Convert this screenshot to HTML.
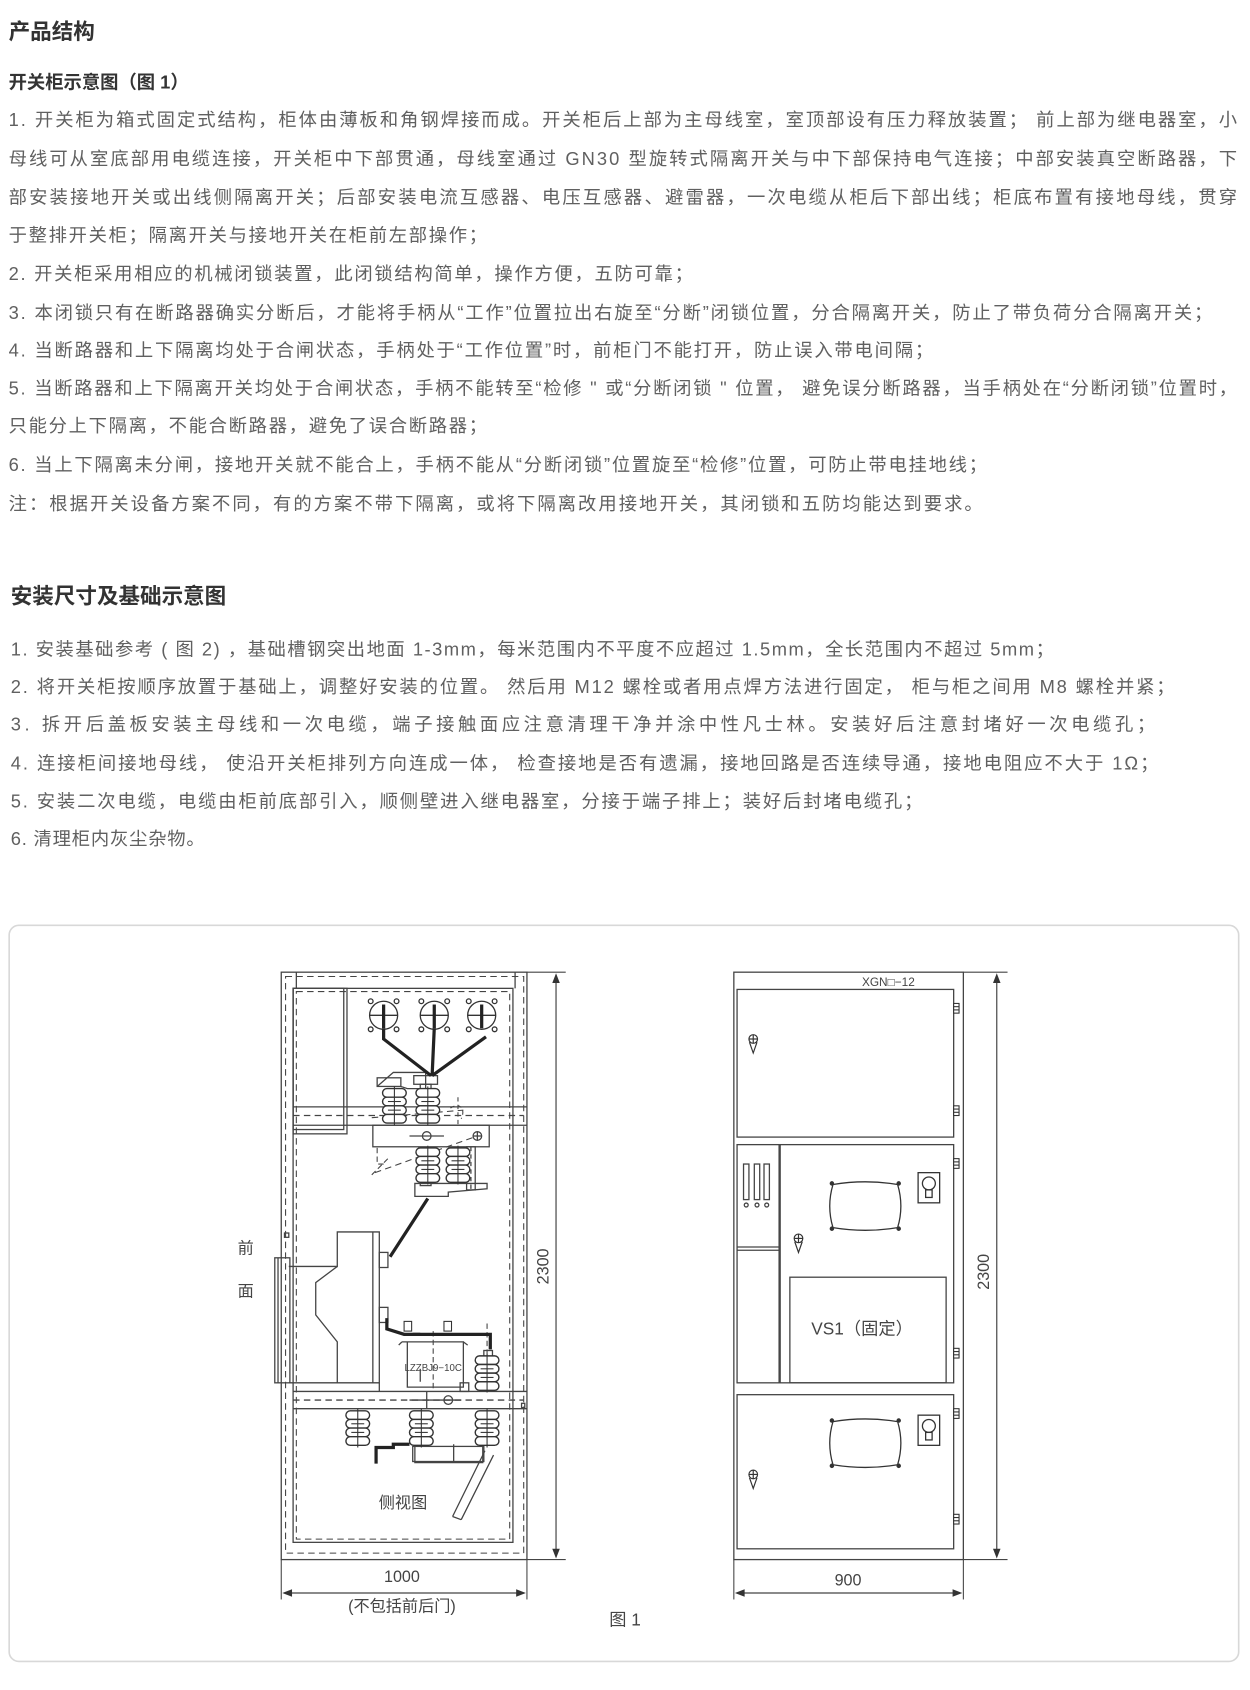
<!DOCTYPE html>
<html><head><meta charset="utf-8"><style>
html,body{margin:0;padding:0;background:#fff;}
svg{display:block;}
.t{font-family:"Liberation Sans","Noto Sans CJK SC",sans-serif;font-size:17px;fill:#606060;}
.h{font-family:"Liberation Sans","Noto Sans CJK SC",sans-serif;font-weight:bold;fill:#333;}
.d{font-family:"Liberation Sans","Noto Sans CJK SC",sans-serif;fill:#444;}
</style></head><body>
<svg width="1250" height="1690" viewBox="0 0 1160 1568" preserveAspectRatio="none" xmlns="http://www.w3.org/2000/svg">
<defs>
<g id="ins">
 <rect x="-11" y="0" width="22" height="8" rx="4" fill="#fff" stroke="#333" stroke-width="1.3"/>
 <rect x="-11" y="8" width="22" height="8" rx="4" fill="#fff" stroke="#333" stroke-width="1.3"/>
 <rect x="-11" y="16" width="22" height="8" rx="4" fill="#fff" stroke="#333" stroke-width="1.3"/>
 <rect x="-11" y="24" width="22" height="8" rx="4" fill="#fff" stroke="#333" stroke-width="1.3"/>
 <line x1="0" y1="-2" x2="0" y2="34" stroke="#333" stroke-width="1"/>
 <line x1="-6" y1="12" x2="6" y2="12" stroke="#333" stroke-width="1"/>
 <line x1="-6" y1="20" x2="6" y2="20" stroke="#333" stroke-width="1"/>
</g>
<g id="knob" fill="none" stroke="#333" stroke-width="1.1">
 <circle cx="0" cy="0" r="4"/><line x1="-4" y1="0" x2="4" y2="0"/><line x1="0" y1="-4" x2="0" y2="4"/>
 <path d="M-3.5 3 L0 13 L3.5 3"/>
</g>
<g id="hinge" fill="#fff" stroke="#333" stroke-width="1">
 <rect x="0" y="0" width="5" height="9"/><line x1="0" y1="3" x2="5" y2="3"/><line x1="0" y1="6" x2="5" y2="6"/>
</g>
<g id="lamp" fill="none" stroke="#333" stroke-width="1.2">
 <rect x="0" y="0" width="20" height="28"/>
 <circle cx="10" cy="10" r="6"/><rect x="7" y="16" width="6" height="7"/>
</g>
<g id="win" fill="none" stroke="#333" stroke-width="1.2">
 <path d="M0 0 Q30 -5 60 0 Q66 20 60 40 Q30 45 0 40 Q-6 20 0 0 Z"/>
 <circle cx="-1" cy="-1" r="1.5" fill="#333"/><circle cx="61" cy="-1" r="1.5" fill="#333"/>
 <circle cx="-1" cy="41" r="1.5" fill="#333"/><circle cx="61" cy="41" r="1.5" fill="#333"/>
</g>
</defs>

<text class="h" x="8" y="36" font-size="20">产品结构</text>
<text class="h" x="8" y="82" font-size="17">开关柜示意图（图 1）</text>
<text class="t" x="8" y="117" textLength="1140" lengthAdjust="spacing">1. 开关柜为箱式固定式结构，柜体由薄板和角钢焊接而成。开关柜后上部为主母线室，室顶部设有压力释放装置； 前上部为继电器室，小</text>
<text class="t" x="8" y="153" textLength="1140" lengthAdjust="spacing">母线可从室底部用电缆连接，开关柜中下部贯通，母线室通过 GN30 型旋转式隔离开关与中下部保持电气连接；中部安装真空断路器，下</text>
<text class="t" x="8" y="189" textLength="1140" lengthAdjust="spacing">部安装接地开关或出线侧隔离开关；后部安装电流互感器、电压互感器、避雷器，一次电缆从柜后下部出线；柜底布置有接地母线，贯穿</text>
<text class="t" x="8" y="224" textLength="444" lengthAdjust="spacing">于整排开关柜；隔离开关与接地开关在柜前左部操作；</text>
<text class="t" x="8" y="260" textLength="635" lengthAdjust="spacing">2. 开关柜采用相应的机械闭锁装置，此闭锁结构简单，操作方便，五防可靠；</text>
<text class="t" x="8" y="296" textLength="1117" lengthAdjust="spacing">3. 本闭锁只有在断路器确实分断后，才能将手柄从“工作”位置拉出右旋至“分断”闭锁位置，分合隔离开关，防止了带负荷分合隔离开关；</text>
<text class="t" x="8" y="331" textLength="858" lengthAdjust="spacing">4. 当断路器和上下隔离均处于合闸状态，手柄处于“工作位置”时，前柜门不能打开，防止误入带电间隔；</text>
<text class="t" x="8" y="366" textLength="1140" lengthAdjust="spacing">5. 当断路器和上下隔离开关均处于合闸状态，手柄不能转至“检修 " 或“分断闭锁 " 位置，  避免误分断路器，当手柄处在“分断闭锁”位置时，</text>
<text class="t" x="8" y="401" textLength="444" lengthAdjust="spacing">只能分上下隔离，不能合断路器，避免了误合断路器；</text>
<text class="t" x="8" y="437" textLength="908" lengthAdjust="spacing">6. 当上下隔离未分闸，接地开关就不能合上，手柄不能从“分断闭锁”位置旋至“检修”位置，可防止带电挂地线；</text>
<text class="t" x="8" y="473" textLength="904" lengthAdjust="spacing">注：根据开关设备方案不同，有的方案不带下隔离，或将下隔离改用接地开关，其闭锁和五防均能达到要求。</text>

<text class="h" x="10" y="560" font-size="20">安装尺寸及基础示意图</text>
<text class="t" x="10" y="608" textLength="968" lengthAdjust="spacing">1. 安装基础参考 ( 图 2) ，基础槽钢突出地面 1-3mm，每米范围内不平度不应超过 1.5mm，全长范围内不超过 5mm；</text>
<text class="t" x="10" y="643" textLength="1080" lengthAdjust="spacing">2. 将开关柜按顺序放置于基础上，调整好安装的位置。 然后用 M12 螺栓或者用点焊方法进行固定，  柜与柜之间用 M8 螺栓并紧；</text>
<text class="t" x="10" y="678" textLength="1062" lengthAdjust="spacing">3. 拆开后盖板安装主母线和一次电缆，端子接触面应注意清理干净并涂中性凡士林。安装好后注意封堵好一次电缆孔；</text>
<text class="t" x="10" y="714" textLength="1065" lengthAdjust="spacing">4. 连接柜间接地母线，  使沿开关柜排列方向连成一体，  检查接地是否有遗漏，接地回路是否连续导通，接地电阻应不大于 1Ω；</text>
<text class="t" x="10" y="749" textLength="846" lengthAdjust="spacing">5. 安装二次电缆，电缆由柜前底部引入，顺侧壁进入继电器室，分接于端子排上；装好后封堵电缆孔；</text>
<text class="t" x="10" y="784" textLength="180" lengthAdjust="spacing">6. 清理柜内灰尘杂物。</text>

<rect x="8.5" y="858.5" width="1141" height="683" rx="9" fill="#fff" stroke="#d8d8d8" stroke-width="1.5"/>

<g fill="none" stroke="#444" stroke-width="1.2">
 <rect x="261" y="902" width="228" height="545"/>
 <rect x="265" y="906" width="221" height="535" stroke-dasharray="6 4" stroke-width="1"/>
 <line x1="275" y1="902" x2="275" y2="917"/>
 <line x1="478" y1="902" x2="478" y2="917"/>
 <rect x="272" y="917" width="204" height="514"/>
 <rect x="275" y="920" width="198" height="508" stroke-dasharray="6 4" stroke-width="1"/>
 <rect x="272" y="917" width="50" height="135"/>
 <rect x="272" y="917" width="47" height="131"/>
 <line x1="272" y1="1027" x2="489" y2="1027"/>
 <line x1="272" y1="1044" x2="489" y2="1044"/>
 <line x1="272" y1="1035" x2="486" y2="1035" stroke-dasharray="6 4"/>
 <line x1="272" y1="1291" x2="489" y2="1291"/>
 <line x1="272" y1="1307" x2="489" y2="1307"/>
 <line x1="272" y1="1299" x2="486" y2="1299" stroke-dasharray="6 4"/>
 <rect x="264" y="1144" width="4" height="4"/>
 <rect x="484" y="1302" width="3" height="4"/>
 <rect x="255" y="1167" width="14" height="116"/>
 <line x1="258" y1="1167" x2="258" y2="1283"/>
 <path d="M268 1175 L313 1175 L313 1143 L352 1143 L352 1283 L268 1283"/>
 <path d="M313 1175 L293 1190 L293 1220 L313 1245 L313 1283"/>
 <line x1="346" y1="1143" x2="346" y2="1283"/>
 <line x1="352" y1="1283" x2="352" y2="1291"/>
 <rect x="352" y="1162" width="8" height="14"/>
 <rect x="352" y="1213" width="8" height="14"/>
 <rect x="346" y="1044" width="108" height="20"/>
 <circle cx="396" cy="1054" r="4"/>
 <line x1="380" y1="1054" x2="412" y2="1054"/>
 <circle cx="443" cy="1054" r="4"/><line x1="439" y1="1054" x2="447" y2="1054"/><line x1="443" y1="1050" x2="443" y2="1058"/>
 <path d="M345 1037 L430 1030 M348 1088 L440 1055" stroke-dasharray="6 4" stroke-width="1"/>
 <path d="M350 1065 L350 1080 L356 1080 M345 1090 L360 1075" stroke-dasharray="5 3" stroke-width="1"/>
 <path d="M425 1018 L425 1046 M418 1028 C428 1022 432 1030 428 1038" stroke-dasharray="4 3" stroke-width="1"/>
 <rect x="433" y="1064" width="8" height="40"/>
 <line x1="437" y1="1064" x2="437" y2="1104" stroke-dasharray="4 3"/>
 <path d="M385 1098 L385 1110 L416 1110 L416 1106 L452 1103 L452 1098 Z"/>
 <rect x="390" y="1088" width="10" height="12"/>
 <rect x="350" y="1000" width="22" height="8"/>
 <path d="M350 1008 L365 995 L395 995 L395 1010 L378 1010 L372 1008"/>
 <rect x="384" y="998" width="22" height="8"/>
 <rect x="390" y="1006" width="10" height="8"/>
 <rect x="427" y="1283" width="8" height="8"/>
 <path d="M396 1291 L396 1307 M380 1299 L428 1299"/>
 <circle cx="416" cy="1299" r="4"/>
 <path d="M373 1245 L378 1245 L378 1287 L430 1287 L430 1245 Z"/>
 <path d="M373 1245 L370 1248 M430 1245 L434 1248"/>
 <line x1="402" y1="1235" x2="402" y2="1290" stroke-dasharray="5 3" stroke-width="1"/>
 <line x1="390" y1="1270" x2="390" y2="1282"/>
 <line x1="452" y1="1228" x2="452" y2="1291" stroke-dasharray="5 3" stroke-width="1"/>
 <rect x="449" y="1253" width="8" height="6"/>
 <path d="M421 1340 L421 1357 L448 1357 L448 1342 M385 1342 L385 1357 L421 1357"/>
 <rect x="383" y="1342" width="66" height="14"/>
 <path d="M450 1346 L420 1407 M458 1350 L428 1410 M420 1407 L428 1410"/>
 <line x1="489" y1="902" x2="525" y2="902" stroke-width="1"/>
 <line x1="489" y1="1447" x2="525" y2="1447" stroke-width="1"/>
 <line x1="516" y1="905" x2="516" y2="1444" stroke-width="1.1"/>
 <line x1="261" y1="1447" x2="261" y2="1484" stroke-width="1"/>
 <line x1="489" y1="1447" x2="489" y2="1484" stroke-width="1"/>
 <line x1="264" y1="1478" x2="486" y2="1478" stroke-width="1.1"/>
</g>
<g fill="#333">
 <path d="M516 903 L512.5 912 L519.5 912 Z"/><path d="M516 1446 L512.5 1437 L519.5 1437 Z"/>
 <path d="M262 1478 L271 1474.5 L271 1481.5 Z"/><path d="M488 1478 L479 1474.5 L479 1481.5 Z"/>
</g>
<g fill="none" stroke="#333" stroke-width="1.2">
 <circle cx="356" cy="942" r="13"/><circle cx="403" cy="942" r="13"/><circle cx="447" cy="942" r="13"/>
 <line x1="343" y1="942" x2="369" y2="942"/><line x1="390" y1="942" x2="416" y2="942"/><line x1="434" y1="942" x2="460" y2="942"/>
 <circle cx="344" cy="929" r="2.2"/><circle cx="368" cy="929" r="2.2"/><circle cx="344" cy="955" r="2.2"/><circle cx="368" cy="955" r="2.2"/>
 <circle cx="391" cy="929" r="2.2"/><circle cx="415" cy="929" r="2.2"/><circle cx="391" cy="955" r="2.2"/><circle cx="415" cy="955" r="2.2"/>
 <circle cx="435" cy="929" r="2.2"/><circle cx="459" cy="929" r="2.2"/><circle cx="435" cy="955" r="2.2"/><circle cx="459" cy="955" r="2.2"/>
</g>
<g stroke="#222" stroke-width="3" fill="none">
 <line x1="356" y1="932" x2="356" y2="954"/><line x1="403" y1="932" x2="403" y2="954"/><line x1="447" y1="932" x2="447" y2="954"/>
 <path d="M356 954 L356 964 L400 998 M403 954 L401 998 M451 962 L401 998"/>
 <path d="M397 1112 L362 1166"/>
 <path d="M359 1223 L359 1233 L375 1238 L390 1238"/>
 <path d="M383 1238 L415 1238 M410 1238 L455 1238 L455 1252"/>
 <path d="M349 1358 L349 1343 L365 1343 L365 1340 L380 1340"/>
</g>
<g fill="none" stroke="#333" stroke-width="1"><rect x="375" y="1226" width="7" height="9"/><rect x="412" y="1226" width="7" height="9"/></g>
<use href="#ins" x="366" y="1010"/>
<use href="#ins" x="397" y="1010"/>
<use href="#ins" x="397" y="1065"/>
<use href="#ins" x="425" y="1065"/>
<use href="#ins" x="452" y="1258"/>
<use href="#ins" x="332" y="1309"/>
<use href="#ins" x="391" y="1309"/>
<use href="#ins" x="452" y="1309"/>
<text class="d" x="402" y="1272" font-size="9" text-anchor="middle">LZZBJ9−10C</text>
<text class="d" x="374" y="1399" font-size="15" text-anchor="middle">侧视图</text>
<text class="d" x="228" y="1163" font-size="15" text-anchor="middle">前</text>
<text class="d" x="228" y="1203" font-size="15" text-anchor="middle">面</text>
<text class="d" x="509" y="1175" font-size="15" text-anchor="middle" transform="rotate(-90 509 1175)">2300</text>
<text class="d" x="373" y="1468" font-size="15" text-anchor="middle">1000</text>
<text class="d" x="373" y="1495" font-size="15" text-anchor="middle">(不包括前后门)</text>
<text class="d" x="580" y="1508" font-size="16" text-anchor="middle">图 1</text>

<g fill="none" stroke="#444" stroke-width="1.2">
 <rect x="681" y="902" width="213" height="545"/>
 <rect x="684" y="918" width="201" height="137"/>
 <rect x="684" y="1062" width="39" height="221"/>
 <line x1="684" y1="1157" x2="723" y2="1157"/><line x1="684" y1="1160" x2="723" y2="1160"/>
 <rect x="724" y="1062" width="161" height="221"/>
 <rect x="733" y="1185" width="145" height="98"/>
 <rect x="684" y="1294" width="201" height="143"/>
 <rect x="690" y="1080" width="5" height="33"/><rect x="700" y="1080" width="5" height="33"/><rect x="709" y="1080" width="5" height="33"/>
 <circle cx="692.5" cy="1118" r="1.8"/><circle cx="702.5" cy="1118" r="1.8"/><circle cx="711.5" cy="1118" r="1.8"/>
 <line x1="894" y1="902" x2="935" y2="902" stroke-width="1"/>
 <line x1="894" y1="1447" x2="935" y2="1447" stroke-width="1"/>
 <line x1="925" y1="905" x2="925" y2="1444" stroke-width="1.1"/>
 <line x1="681" y1="1447" x2="681" y2="1484" stroke-width="1"/>
 <line x1="894" y1="1447" x2="894" y2="1484" stroke-width="1"/>
 <line x1="684" y1="1478" x2="891" y2="1478" stroke-width="1.1"/>
</g>
<g fill="#333">
 <path d="M925 903 L921.5 912 L928.5 912 Z"/><path d="M925 1446 L921.5 1437 L928.5 1437 Z"/>
 <path d="M682 1478 L691 1474.5 L691 1481.5 Z"/><path d="M893 1478 L884 1474.5 L884 1481.5 Z"/>
</g>
<use href="#hinge" x="885" y="931"/><use href="#hinge" x="885" y="1026"/>
<use href="#hinge" x="885" y="1075"/><use href="#hinge" x="885" y="1251"/>
<use href="#hinge" x="885" y="1307"/><use href="#hinge" x="885" y="1405"/>
<use href="#knob" x="699" y="964"/><use href="#knob" x="741" y="1149"/><use href="#knob" x="699" y="1368"/>
<use href="#win" x="773" y="1099"/><use href="#win" x="773" y="1319"/>
<use href="#lamp" x="852" y="1088"/><use href="#lamp" x="852" y="1313"/>
<text class="d" x="849" y="915" font-size="11" text-anchor="end">XGN□−12</text>
<text class="d" x="800" y="1238" font-size="16" text-anchor="middle">VS1（固定）</text>
<text class="d" x="918" y="1180" font-size="15" text-anchor="middle" transform="rotate(-90 918 1180)">2300</text>
<text class="d" x="787" y="1471" font-size="15" text-anchor="middle">900</text>
</svg>
</body></html>
